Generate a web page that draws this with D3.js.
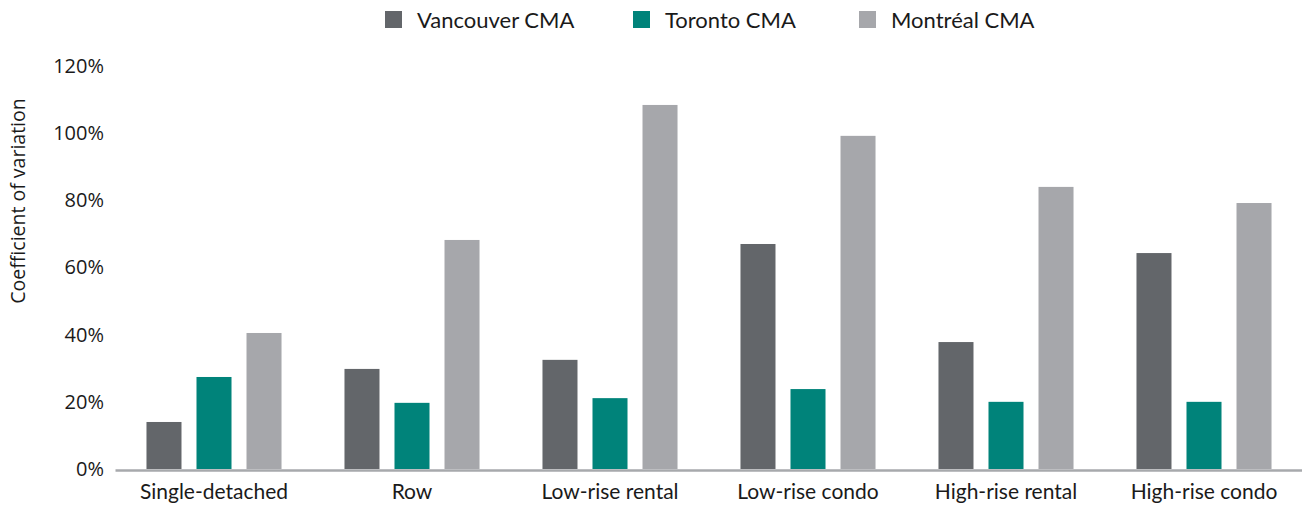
<!DOCTYPE html>
<html>
<head>
<meta charset="utf-8">
<script src="https://cdn.jsdelivr.net/npm/d3@7"></script>
<style>
  body { margin: 0; background: #fff; }
  svg text { font-family: Lato, "Open Sans", sans-serif; fill: #1a1a1a; }
</style>
</head>
<body>
<div id="content"></div>
<script>
// chart data
var categories = ['Single-detached', 'Row', 'Low-rise rental', 'Low-rise condo', 'High-rise rental', 'High-rise condo'],
    series = ['Vancouver CMA', 'Toronto CMA', 'Montréal CMA'],
    vancouver = [0.14, 0.298, 0.325, 0.67, 0.378, 0.643],
    toronto = [0.274, 0.197, 0.211, 0.238, 0.2, 0.2],
    montreal = [0.405, 0.682, 1.084, 0.992, 0.84, 0.792],
    yTicks = [0, 0.2, 0.4, 0.6, 0.8, 1.0, 1.2],
    colors = ['#63666a', '#00837a', '#a6a7ab'];

var width = 1302,
    height = 507,
    values = [vancouver, toronto, montreal],

    svg = d3.select('#content').append('svg')
        .attr('width', width)
        .attr('height', height),

    x0 = d3.scaleBand()
        .domain(categories)
        .range([115, 1303])
        .paddingInner(0.318)
        .paddingOuter(0.159),
    x1 = d3.scaleBand()
        .domain(series)
        .range([0, x0.bandwidth()])
        .paddingInner(0.3),
    y = d3.scaleLinear().domain([0, 1.2]).range([469, 66]),
    color = d3.scaleOrdinal().domain(series).range(colors);

// y axis labels (no line)
var yAxis = d3.axisLeft(y)
    .tickValues(yTicks)
    .tickSize(0)
    .tickPadding(0)
    .tickFormat(d3.format('.0%'));

svg.append('g')
    .attr('transform', 'translate(104,0)')
    .call(yAxis)
    .call(function(g){
        g.select('.domain').remove();
        g.selectAll('text')
            .style('font-family', '"Open Sans", sans-serif')
            .style('font-size', '20px')
            .attr('fill', '#1a1a1a');
    });

svg.append('text')
    .attr('transform', 'translate(25,201) rotate(-90)')
    .attr('text-anchor', 'middle')
    .style('font-family', '"Open Sans", sans-serif')
    .style('font-size', '19.5px')
    .text('Coefficient of variation');

// bars
var rows = categories.map(function(c, i){
    return { cat: c, vals: series.map(function(s, j){ return { s: s, v: values[j][i] }; }) };
});

var groups = svg.selectAll('g.cat')
    .data(rows)
    .enter()
    .append('g')
    .attr('class', 'cat')
    .attr('transform', function(d){ return 'translate(' + x0(d.cat) + ',0)'; });

groups.selectAll('rect')
    .data(function(d){ return d.vals; })
    .enter()
    .append('rect')
    .attr('x', function(d){ return x1(d.s); })
    .attr('width', x1.bandwidth())
    .attr('y', function(d){ return y(d.v); })
    .attr('height', function(d){ return y(0) - y(d.v); })
    .attr('fill', function(d){ return color(d.s); });

// x axis
var xAxis = d3.axisBottom(x0).tickSize(0).tickPadding(14);
svg.append('g')
    .attr('transform', 'translate(0,' + (y(0) + 1) + ')')
    .call(xAxis)
    .call(function(g){
        g.select('.domain')
            .attr('stroke', '#a7a9ac')
            .attr('stroke-width', 2.5);
        g.selectAll('text')
            .style('font-size', '21px')
            .attr('fill', '#1a1a1a');
    });

// legend
var legendX = [385, 633, 859];
var legend = svg.selectAll('g.legend')
    .data(series)
    .enter()
    .append('g')
    .attr('class', 'legend')
    .attr('transform', function(d, i){ return 'translate(' + legendX[i] + ',11)'; });

legend.append('rect')
    .attr('width', 17)
    .attr('height', 17)
    .attr('fill', function(d){ return color(d); });

legend.append('text')
    .attr('x', 32)
    .attr('y', 9)
    .attr('dy', '0.35em')
    .style('font-size', '22px')
    .text(function(d){ return d; });
</script>
</body>
</html>
